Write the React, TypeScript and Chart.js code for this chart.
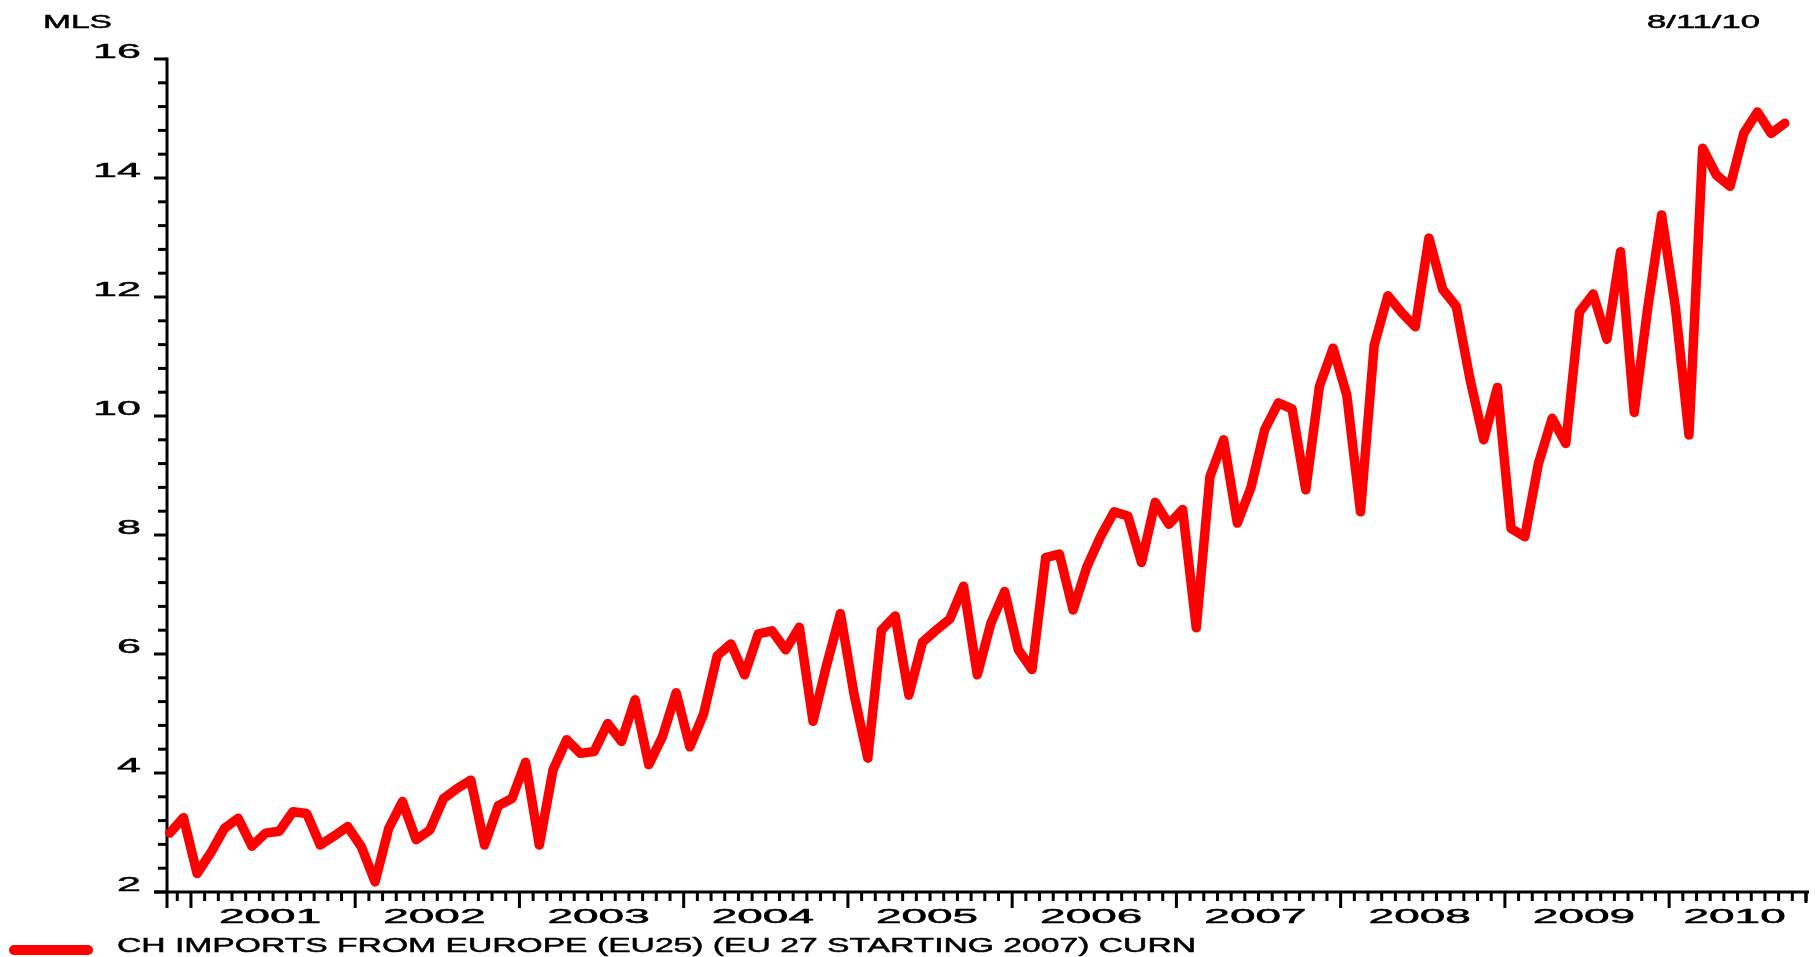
import React, { useEffect, useRef } from "react";
import { Chart, registerables } from "chart.js";

Chart.register(...registerables);

// Monthly series, first value = Nov 2000 (month offset -2 from Jan 2001)
const FIRST_MONTH_OFFSET = -2;
const MID_MONTH = 0.45;
const values: number[] = [
  2.99, 3.25, 2.31, 2.66, 3.07, 3.24, 2.77, 2.99, 3.02, 3.35,
  3.32, 2.79, 2.94, 3.10, 2.76, 2.17, 3.07, 3.52, 2.88, 3.04,
  3.57, 3.74, 3.88, 2.79, 3.45, 3.57, 4.18, 2.79, 4.05, 4.56,
  4.33, 4.36, 4.83, 4.53, 5.23, 4.14, 4.61, 5.35, 4.44, 4.99,
  5.97, 6.17, 5.65, 6.34, 6.39, 6.07, 6.45, 4.87, 5.82, 6.68,
  5.32, 4.25, 6.40, 6.64, 5.31, 6.20, 6.40, 6.59, 7.14, 5.65,
  6.52, 7.05, 6.07, 5.74, 7.62, 7.68, 6.74, 7.46, 7.97, 8.39,
  8.32, 7.54, 8.55, 8.18, 8.43, 6.44, 8.98, 9.60, 8.20, 8.80,
  9.77, 10.22, 10.12, 8.76, 10.50, 11.14, 10.35, 8.39, 11.19, 12.02,
  11.74, 11.50, 12.99, 12.13, 11.84, 10.62, 9.60, 10.48, 8.11, 7.97,
  9.20, 9.96, 9.54, 11.75, 12.05, 11.29, 12.76, 10.06, 11.84, 13.38,
  11.84, 9.68, 14.50, 14.05, 13.86, 14.75, 15.11, 14.75, 14.92,
];

const yearLabels: string[] = ["2001", "2002", "2003", "2004", "2005", "2006", "2007", "2008", "2009", "2010"];
const yTickValues: number[] = [2, 4, 6, 8, 10, 12, 14, 16];
const Y_MINOR_PER_MAJOR = 5;

const X_MIN = -1.75; // months relative to Jan 2001
const X_MAX = 118; // Nov 2010
const Y_MIN = 2;
const Y_MAX = 16;

const legendLabel = "CH IMPORTS FROM EUROPE (EU25) (EU 27 STARTING 2007) CURN";
const unitLabel = "MLS";
const dateLabel = "8/11/10";

const FONT = '"Liberation Sans", Arial, Helvetica, sans-serif';
const RED = "#ff0000";

function drawStretched(
  ctx: CanvasRenderingContext2D,
  text: string,
  x: number,
  y: number,
  size: number,
  sx: number,
  align: "left" | "right" | "center"
) {
  ctx.save();
  ctx.font = `${size}px ${FONT}`;
  const w = ctx.measureText(text).width * sx;
  const left = align === "left" ? x : align === "right" ? x - w : x - w / 2;
  ctx.translate(left, y);
  ctx.scale(sx, 1);
  ctx.textAlign = "left";
  ctx.textBaseline = "alphabetic";
  ctx.fillStyle = "#000";
  ctx.strokeStyle = "#000";
  ctx.lineWidth = 0.5;
  ctx.lineJoin = "round";
  ctx.fillText(text, 0, 0);
  ctx.strokeText(text, 0, 0);
  ctx.restore();
}

function drawFit(
  ctx: CanvasRenderingContext2D,
  text: string,
  left: number,
  right: number,
  y: number,
  size: number
) {
  ctx.save();
  ctx.font = `${size}px ${FONT}`;
  const w = ctx.measureText(text).width;
  ctx.restore();
  drawStretched(ctx, text, left, y, size, (right - left) / w, "left");
}

function line(ctx: CanvasRenderingContext2D, x1: number, y1: number, x2: number, y2: number) {
  ctx.beginPath();
  ctx.moveTo(x1, y1);
  ctx.lineTo(x2, y2);
  ctx.stroke();
}

const axesPlugin = {
  id: "customAxes",
  beforeDatasetsDraw(chart: any) {
    const ctx: CanvasRenderingContext2D = chart.ctx;
    const xs = chart.scales.x;
    const ys = chart.scales.y;
    const x0 = xs.getPixelForValue(X_MIN);
    const x1 = xs.getPixelForValue(X_MAX);
    const yb = ys.getPixelForValue(Y_MIN);
    const yt = ys.getPixelForValue(Y_MAX);
    ctx.save();
    ctx.strokeStyle = "#000";
    ctx.lineWidth = 3;
    ctx.lineCap = "butt";
    // axis lines
    line(ctx, x0, yt - 1.5, x0, yb + 16);
    line(ctx, x0 - 13, yb, x1 + 3, yb);
    // y ticks
    for (let i = 0; i < yTickValues.length; i++) {
      const v = yTickValues[i];
      const y = ys.getPixelForValue(v);
      ctx.strokeStyle = "#000";
      ctx.lineWidth = 3;
      line(ctx, x0 - 13, y, x0, y);
      if (i < yTickValues.length - 1) {
        const step = (yTickValues[i + 1] - v) / Y_MINOR_PER_MAJOR;
        for (let k = 1; k < Y_MINOR_PER_MAJOR; k++) {
          const ym = ys.getPixelForValue(v + step * k);
          line(ctx, x0 - 9, ym, x0, ym);
        }
      }
      drawStretched(ctx, String(v), x0 - 26, y - 1, 21, 2.05, "right");
    }
    // x ticks
    ctx.strokeStyle = "#000";
    ctx.lineWidth = 3;
    for (let m = Math.ceil(X_MIN); m <= Math.floor(X_MAX); m++) {
      const x = xs.getPixelForValue(m);
      const len = m % 12 === 0 ? 16 : 9;
      line(ctx, x, yb, x, yb + len);
    }
    line(ctx, x1, yb, x1, yb + 11);
    // year labels
    yearLabels.forEach((lab, j) => {
      const a = Math.max(j * 12, X_MIN);
      const b = Math.min(j * 12 + 12, X_MAX);
      const cx = xs.getPixelForValue((a + b) / 2);
      drawStretched(ctx, lab, cx - 3, yb + 31, 20, 2.3, "center");
    });
    // header texts
    drawFit(ctx, unitLabel, 43, 112, 28, 19);
    drawFit(ctx, dateLabel, 1647, 1760, 28, 19);
    // legend
    ctx.strokeStyle = RED;
    ctx.lineWidth = 10;
    ctx.lineCap = "round";
    line(ctx, 14, 950, 88, 950);
    drawFit(ctx, legendLabel, 117, 1196, 952, 21);
    ctx.restore();
  },
};

export default function App() {
  const canvasRef = useRef<HTMLCanvasElement | null>(null);

  useEffect(() => {
    const canvas = canvasRef.current;
    if (!canvas) return;
    const data = values.map((v, i) => ({ x: FIRST_MONTH_OFFSET + i + MID_MONTH, y: v }));
    const chart = new Chart(canvas, {
      type: "line",
      data: {
        datasets: [
          {
            label: legendLabel,
            data,
            borderColor: RED,
            backgroundColor: RED,
            borderWidth: 9.5,
            pointRadius: 0,
            tension: 0,
            borderJoinStyle: "round",
            borderCapStyle: "round",
            clip: false as any,
          },
        ],
      },
      options: {
        responsive: false,
        devicePixelRatio: 1,
        animation: false,
        layout: { padding: { left: 167, right: 9, top: 59, bottom: 65 } },
        plugins: { legend: { display: false }, tooltip: { enabled: false } },
        scales: {
          x: { type: "linear", min: X_MIN, max: X_MAX, display: false },
          y: { type: "linear", min: Y_MIN, max: Y_MAX, display: false },
        },
      },
      plugins: [axesPlugin],
    });
    return () => chart.destroy();
  }, []);

  return (
    <div style={{ position: "fixed", left: 0, top: 0, width: 1815, height: 957, background: "#fff" }}>
      <canvas ref={canvasRef} width={1815} height={957} style={{ display: "block", width: 1815, height: 957 }} />
    </div>
  );
}
